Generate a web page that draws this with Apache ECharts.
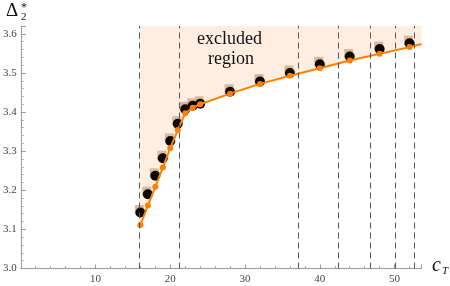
<!DOCTYPE html>
<html>
<head>
<meta charset="utf-8">
<script src="https://cdn.jsdelivr.net/npm/echarts@6/dist/echarts.min.js"></script>
<style>html,body{margin:0;padding:0;background:#fff}#c{width:450px;height:286px}</style>
</head>
<body>
<div id="c"></div>
<script>
var cT = [16,17,18,19,20,21,22,23,24,28,32,36,40,44,48,52];
var bound = [3.111,3.161,3.209,3.258,3.308,3.354,3.397,3.411,3.420,3.447,3.472,3.493,3.512,3.532,3.549,3.566];
var estimate = [3.143,3.190,3.237,3.282,3.326,3.370,3.407,3.416,3.421,3.452,3.478,3.500,3.522,3.542,3.561,3.576];
var boundEnd = [53.6, 3.574];
var dashedX = [15.9, 21.2, 37.1, 42.4, 46.7, 50.1, 52.6];
var xTicks = [10,20,30,40,50];
var yTicks = [3.0,3.1,3.2,3.3,3.4,3.5,3.6];

var boundPts = cT.map(function(x,i){return [x,bound[i]];});
var areaPts = boundPts.concat([boundEnd]);
var estPts = cT.map(function(x,i){return [x,estimate[i]];});

var serif = '"Liberation Serif","DejaVu Serif",serif';
var chart = echarts.init(document.getElementById('c'), null, {renderer:'canvas'});
chart.setOption({
  animation:false,
  grid:{left:17.5,right:28.5,top:26,bottom:17.5},
  xAxis:{type:'value',min:0,max:53.6,interval:10,
    axisLine:{onZero:false,lineStyle:{color:'#999',width:1}},
    axisTick:{inside:true,length:4,lineStyle:{color:'#999'}},
    minorTick:{show:true,splitNumber:5,length:2.5,lineStyle:{color:'#aaa'}},
    splitLine:{show:false},
    axisLabel:{fontFamily:serif,fontSize:11,color:'#444',margin:5,showMaxLabel:false,
      formatter:function(v){return xTicks.indexOf(v)>=0? String(v):'';}}
  },
  yAxis:{type:'value',min:3.0,max:3.62,interval:0.1,
    axisLine:{show:true,lineStyle:{color:'#999',width:1}},
    axisTick:{inside:true,length:5,lineStyle:{color:'#999'}},
    minorTick:{show:true,splitNumber:5,length:3,lineStyle:{color:'#aaa'}},
    splitLine:{show:false},
    axisLabel:{fontFamily:serif,fontSize:11,color:'#444',margin:4,showMaxLabel:false,
      formatter:function(v){var r=Math.round(v*10)/10; return yTicks.indexOf(r)>=0? r.toFixed(1):'';}}
  },
  series:[
    {type:'line',data:areaPts,showSymbol:false,silent:true,z:1,
      lineStyle:{width:0},areaStyle:{color:'#fdeee1',opacity:1,origin:'end'},
      markLine:{silent:true,symbol:'none',label:{show:false},
        lineStyle:{color:'#555',type:[6,4],width:1},
        data:dashedX.map(function(x){return {xAxis:x};})}
    },
    {type:'scatter',data:estPts,symbol:'rect',symbolSize:[9,9],symbolOffset:[-1,-3],z:2,
      itemStyle:{color:'#d8b99b',opacity:1}},
    {type:'scatter',data:estPts,symbol:'circle',symbolSize:10,z:3,
      itemStyle:{color:'#0d0704',opacity:1}},
    {type:'line',data:areaPts,symbol:'circle',symbolSize:function(v){return v[0]>53?0:6;},showAllSymbol:true,z:4,
      lineStyle:{color:'#ff8000',width:2},itemStyle:{color:'#ff8000'}}
  ],
  graphic:[
    {type:'text',z:100,left:197,top:30,style:{text:'excluded',font:'18px '+serif,fill:'#111'}},
    {type:'text',z:100,left:208,top:50,style:{text:'region',font:'18px '+serif,fill:'#111'}},
    {type:'text',z:100,left:6,top:2,style:{text:'Δ',font:'19px '+serif,fill:'#111'}},
    {type:'text',z:100,left:21,top:2,style:{text:'*',font:'12px '+serif,fill:'#111'}},
    {type:'text',z:100,left:21,top:12,style:{text:'2',font:'11px '+serif,fill:'#111'}},
    {type:'text',z:100,left:432,top:256,style:{text:'c',font:'italic 20px '+serif,fill:'#111'}},
    {type:'text',z:100,left:442,top:266,style:{text:'T',font:'italic 11px '+serif,fill:'#111'}}
  ]
});
</script>
</body>
</html>
